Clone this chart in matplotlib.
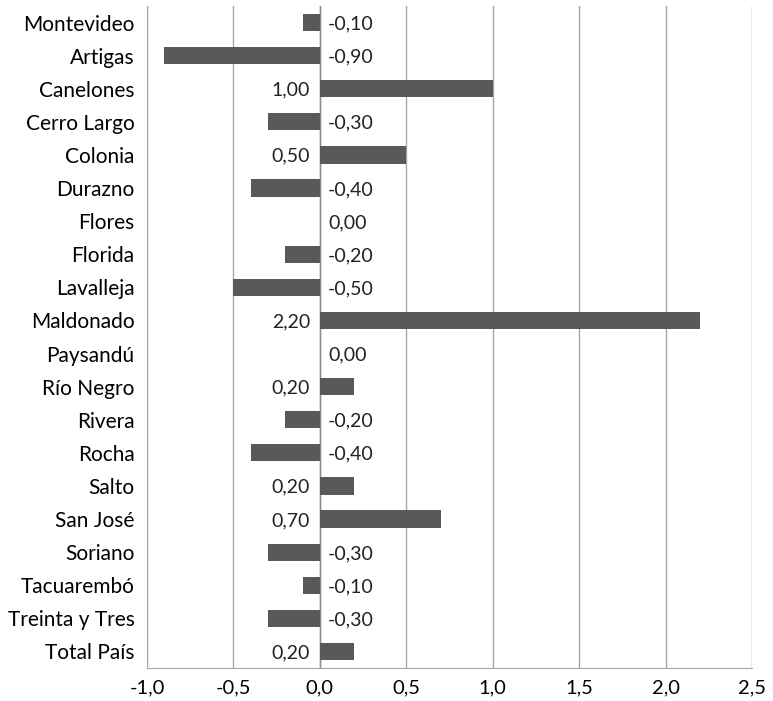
import matplotlib.pyplot as plt
import numpy as np

departamentos = ["Montevideo", "Artigas", "Canelones", "Cerro Largo", "Colonia",
                 "Durazno", "Flores", "Florida", "Lavalleja", "Maldonado",
                 "Paysandú", "Río Negro", "Rivera", "Rocha", "Salto",
                 "San José", "Soriano", "Tacuarembó", "Treinta y Tres", "Total País"]
variacion = [-0.10, -0.90, 1.00, -0.30, 0.50, -0.40, 0.00, -0.20, -0.50, 2.20,
             0.00, 0.20, -0.20, -0.40, 0.20, 0.70, -0.30, -0.10, -0.30, 0.20]
xticks = [-1.0, -0.5, 0.0, 0.5, 1.0, 1.5, 2.0, 2.5]

plt.rcParams['font.family'] = ['Lato', 'DejaVu Sans']

fig = plt.figure(figsize=(7.73, 7.01), dpi=100)
ax = fig.add_axes([147/773, 33/701, (752-147)/773, (695-33)/701])

y = np.arange(len(departamentos))
ax.barh(y, variacion, height=0.52, color="#595959", zorder=3)

# etiquetas de valor: a la izquierda del cero si es positivo, a la derecha si no
for yi, v in zip(y, variacion):
    txt = f"{v:.2f}".replace(".", ",")
    if v > 0:
        ax.annotate(txt, (0, yi), xytext=(-7, -1), textcoords="offset points",
                    ha="right", va="center", fontsize=14, color="#222222")
    else:
        ax.annotate(txt, (0, yi), xytext=(6, -1), textcoords="offset points",
                    ha="left", va="center", fontsize=14, color="#222222")

ax.set_xlim(-1.0, 2.5)
ax.set_ylim(len(departamentos) - 0.5, -0.5)
ax.set_xticks(xticks)
ax.set_xticklabels([f"{t:.1f}".replace(".", ",") for t in xticks], fontsize=14.5)
ax.set_yticks(y)
ax.set_yticklabels(departamentos, fontsize=15)
ax.tick_params(length=0, pad=9)
ax.tick_params(axis="x", pad=8)

ax.grid(axis="x", color="#a6a6a6", linewidth=1, zorder=0)
ax.axvline(0, color="#8c8c8c", linewidth=1, zorder=2)
for s in ["top", "right"]:
    ax.spines[s].set_visible(False)
for s in ["left", "bottom"]:
    ax.spines[s].set_color("#a6a6a6")

fig.savefig("out.png", dpi=100)
